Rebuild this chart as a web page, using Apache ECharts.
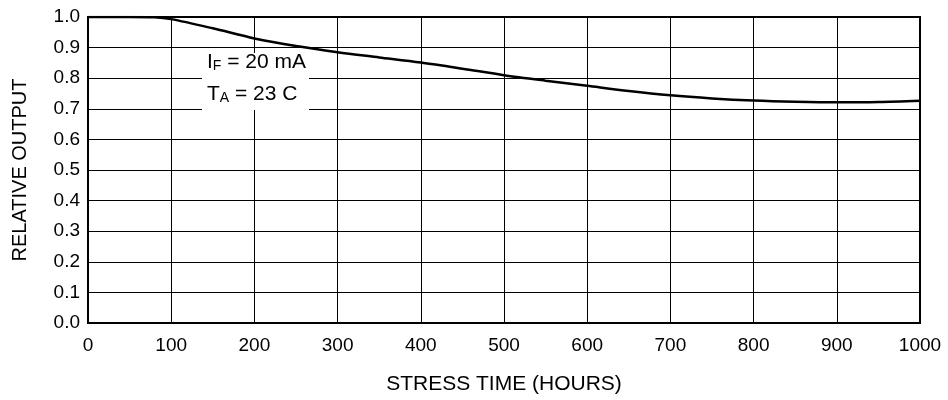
<!DOCTYPE html>
<html><head><meta charset="utf-8">
<script src="https://cdn.jsdelivr.net/npm/echarts@6/dist/echarts.min.js"></script>
<style>html,body{margin:0;padding:0;background:#fff}#c{width:948px;height:400px}</style>
</head><body><div id="c"></div>
<script>
var hours = [0, 50, 80, 100, 150, 200, 250, 300, 350, 400, 450, 500, 550, 600, 650, 700, 750, 800, 850, 900, 950, 1000];
var relOutput = [1.0, 1.0, 0.999, 0.993, 0.963, 0.930, 0.905, 0.885, 0.868, 0.851, 0.831, 0.810, 0.792, 0.775, 0.758, 0.744, 0.734, 0.727, 0.723, 0.721, 0.722, 0.726];
var xTitle = 'STRESS TIME (HOURS)';
var yTitle = 'RELATIVE OUTPUT';
var noteLines = ['{m|I}{s|F}{m| = 20 mA}', '{m|T}{s|A}{m| = 23 C}'];

var FONT = '"Liberation Sans", Arial, Helvetica, sans-serif';
var chart = echarts.init(document.getElementById('c'));
chart.setOption({
  animation: false,
  grid: {left: 88, right: 28, top: 17, bottom: 72, show: true, borderColor: '#000', borderWidth: 2, backgroundColor: 'transparent'},
  xAxis: {
    type: 'value', min: 0, max: 1000, interval: 100,
    name: xTitle, nameLocation: 'middle', nameGap: 51,
    nameTextStyle: {color: '#000', fontSize: 21, fontFamily: FONT},
    axisLine: {show: false}, axisTick: {show: false},
    axisLabel: {color: '#000', fontSize: 19, fontFamily: FONT, margin: 13, formatter: function (v) { return String(v); }},
    splitLine: {show: true, lineStyle: {color: '#000', width: 1}}
  },
  yAxis: {
    type: 'value', min: 0, max: 1.0, interval: 0.1,
    name: yTitle, nameLocation: 'middle', nameGap: 58,
    nameTextStyle: {color: '#000', fontSize: 20, fontFamily: FONT},
    axisLine: {show: false}, axisTick: {show: false},
    axisLabel: {color: '#000', fontSize: 19, fontFamily: FONT, margin: 8, formatter: function (v) { return v.toFixed(1); }},
    splitLine: {show: true, lineStyle: {color: '#000', width: 1}}
  },
  series: [{
    type: 'line', data: hours.map(function (h, i) { return [h, relOutput[i]]; }),
    smooth: 0.3, showSymbol: false, symbol: 'none',
    lineStyle: {color: '#000', width: 2.5}
  }],
  graphic: [
    {type: 'rect', left: 202, top: 53, shape: {width: 107, height: 57}, style: {fill: '#fff'}, z: 10},
    {type: 'text', left: 207, top: 52, z: 11, style: {
      text: noteLines.join('\n'), fill: '#000', font: '21px ' + FONT,
      rich: {
        m: {fontSize: 21, fontFamily: FONT, lineHeight: 32, verticalAlign: 'bottom', fill: '#000'},
        s: {fontSize: 14, fontFamily: FONT, lineHeight: 12, verticalAlign: 'bottom', fill: '#000'}
      }
    }}
  ]
});
</script></body></html>
